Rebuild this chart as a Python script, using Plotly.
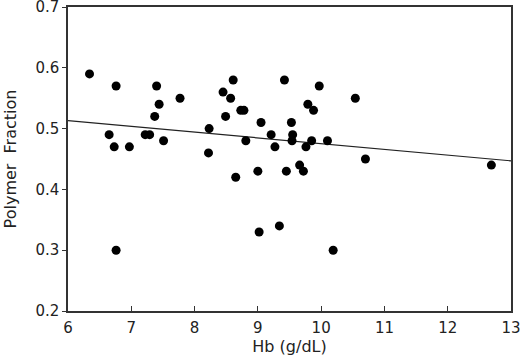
import plotly.graph_objects as go

hb = [6.34, 6.76, 7.40, 7.44, 7.37, 6.65, 6.73, 6.97, 7.22, 7.29, 7.51, 6.76,
      7.77, 8.61, 9.42, 9.97, 8.45, 8.57, 8.73, 8.78, 9.79, 9.88, 8.49, 9.05,
      9.53, 8.23, 9.21, 9.55, 8.81, 9.54, 9.85, 10.10, 9.27, 9.76, 8.22, 9.66,
      9.72, 9.00, 9.45, 8.65, 9.34, 9.02, 10.54, 10.70, 12.69, 10.19]
polymer = [0.59, 0.57, 0.57, 0.54, 0.52, 0.49, 0.47, 0.47, 0.49, 0.49, 0.48, 0.30,
           0.55, 0.58, 0.58, 0.57, 0.56, 0.55, 0.53, 0.53, 0.54, 0.53, 0.52, 0.51,
           0.51, 0.50, 0.49, 0.49, 0.48, 0.48, 0.48, 0.48, 0.47, 0.47, 0.46, 0.44,
           0.43, 0.43, 0.43, 0.42, 0.34, 0.33, 0.55, 0.45, 0.44, 0.30]
fit_x = [6, 13]
fit_y = [0.513, 0.447]

x_ticks = [6, 7, 8, 9, 10, 11, 12, 13]
y_ticks = [0.2, 0.3, 0.4, 0.5, 0.6, 0.7]

fig = go.Figure()
fig.add_trace(go.Scatter(x=fit_x, y=fit_y, mode="lines",
                         line=dict(color="#222", width=1.2), showlegend=False))
fig.add_trace(go.Scatter(x=hb, y=polymer, mode="markers",
                         marker=dict(color="black", size=9), showlegend=False))

font = dict(family="DejaVu Sans", size=15, color="#222")
fig.update_layout(
    width=520, height=360,
    margin=dict(l=68, r=9, t=7, b=49),
    paper_bgcolor="white", plot_bgcolor="white",
    font=font,
    xaxis=dict(range=[6, 13], tickvals=x_ticks, ticktext=[str(v) for v in x_ticks],
               ticks="inside", ticklen=5, tickcolor="#333", tickwidth=1.2,
               showline=True, linecolor="#333", linewidth=1.5, mirror=True,
               showgrid=False, zeroline=False, automargin=False,
               ticklabeloverflow="allow", ticklabelstandoff=2,
               title=dict(text="Hb (g/dL)", standoff=2,
                          font=dict(family="DejaVu Sans", size=16, color="#222"))),
    yaxis=dict(range=[0.2, 0.7], tickvals=y_ticks,
               ticktext=["0.2", "0.3", "0.4", "0.5", "0.6", "0.7"],
               ticks="outside", ticklen=4, tickcolor="#333", tickwidth=1.2,
               showline=True, linecolor="#333", linewidth=1.5, mirror=True,
               showgrid=False, zeroline=False, automargin=False,
               ticklabeloverflow="allow",
               title=dict(text="Polymer  Fraction", standoff=15,
                          font=dict(family="DejaVu Sans", size=16, color="#222"))),
)
fig.write_html("out.html", config={"displayModeBar": False},
               post_script="document.body.style.margin='0';document.body.style.overflow='hidden';")
